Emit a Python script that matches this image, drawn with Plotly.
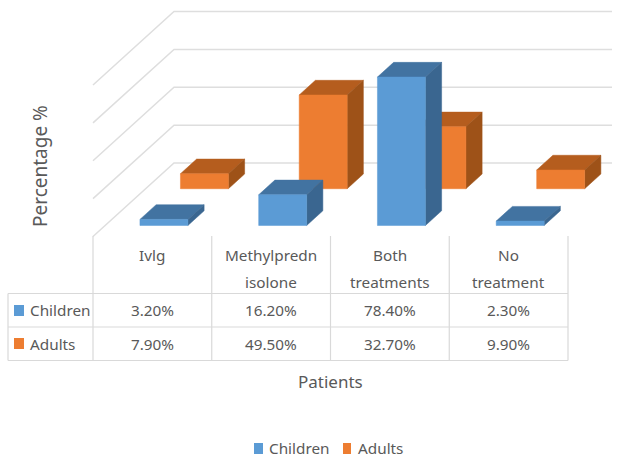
import plotly.graph_objects as go

# Data
categories = [["Ivlg"], ["Methylpredn", "isolone"], ["Both", "treatments"], ["No", "treatment"]]
children = [3.2, 16.2, 78.4, 2.3]
adults = [7.9, 49.5, 32.7, 9.9]
y_ticks = [0, 20, 40, 60, 80]

W, H = 622, 463
# Pixel calibration of the oblique 3D view
X0, UX = 93.0, 118.75      # px of category 0, px per category
Y0, UY = 236.5, 1.893      # px of value 0 on front edge, px per percent
SHEAR_X, SHEAR_Y = 81.0, 73.5   # px shift over the full depth
WALL_END_PX = 612

GAP, BAR_W = 0.293, 0.404
BAR_D = 0.2
D_CHILD, D_ADULT = 0.15, 0.65

GREY = "#d9d9d9"
TXT = "#595959"
FONT = "Noto Sans"

BLUE = ("#5B9BD5", "#4273A1", "#3A6690")
ORANGE = ("#ED7D31", "#B55D1E", "#9E5218")


def px(c, d):
    """x axis unit: categories; depth is sheared into x."""
    return c + d * SHEAR_X / UX


def py(v, d):
    """y axis unit: percent; depth is sheared into y."""
    return v + d * SHEAR_Y / UY


def poly(xs, ys, color, name):
    return go.Scatter(x=xs + xs[:1], y=ys + ys[:1], mode="lines", fill="toself",
                      fillcolor=color, line=dict(color=color, width=0.5),
                      name=name, showlegend=False, hoverinfo="name")


def bar(i, v, d, cols, name):
    l, r = i + GAP, i + GAP + BAR_W
    e = d + BAR_D
    return [
        poly([px(l, d), px(r, d), px(r, e), px(l, e)],
             [py(v, d), py(v, d), py(v, e), py(v, e)], cols[1], name),
        poly([px(r, d), px(r, e), px(r, e), px(r, d)],
             [py(0, d), py(0, e), py(v, e), py(v, d)], cols[2], name),
        poly([px(l, d), px(r, d), px(r, d), px(l, d)],
             [py(0, d), py(0, d), py(v, d), py(v, d)], cols[0], name),
    ]


fig = go.Figure()

# wall gridlines: floor-side diagonal, then along the back wall
x_end = (WALL_END_PX - X0) / UX - SHEAR_X / UX
for t in y_ticks:
    fig.add_trace(go.Scatter(
        x=[px(0, 0), px(0, 1), px(x_end, 1)],
        y=[py(t, 0), py(t, 1), py(t, 1)],
        mode="lines", line=dict(color="#dedede", width=1.5),
        showlegend=False, hoverinfo="skip"))

for i, v in enumerate(adults):
    fig.add_traces(bar(i, v, D_ADULT, ORANGE, "Adults"))
for i, v in enumerate(children):
    fig.add_traces(bar(i, v, D_CHILD, BLUE, "Children"))

ann, shp = [], []


def text(xp, yp, s, size=15.3, anchor="center", angle=0):
    ann.append(dict(x=xp / W, y=1 - yp / H, xref="paper", yref="paper", text=s,
                    showarrow=False, xanchor=anchor, yanchor="middle", textangle=angle,
                    font=dict(family=FONT, size=size, color=TXT)))


def line(x1, y1, x2, y2):
    shp.append(dict(type="line", xref="paper", yref="paper",
                    x0=x1 / W, x1=x2 / W, y0=1 - y1 / H, y1=1 - y2 / H,
                    line=dict(color=GREY, width=1.2)))


def swatch(x1, y1, x2, y2, color):
    shp.append(dict(type="rect", xref="paper", yref="paper",
                    x0=x1 / W, x1=x2 / W, y0=1 - y1 / H, y1=1 - y2 / H,
                    fillcolor=color, line=dict(width=0)))


# data table
col_px = [X0 + UX * k for k in range(len(categories) + 1)]
for xp in col_px:
    line(xp, 236, xp, 360.5)
line(8, 293.5, 8, 360.5)
for yp in (293.5, 327, 360.5):
    line(8, yp, col_px[-1], yp)

for k, lines in enumerate(categories):
    cx = X0 + UX * (k + 0.5)
    for n, s in enumerate(lines):
        text(cx, 255 + 27 * n, s)
    text(cx, 310, f"{children[k]:.2f}%")
    text(cx, 343.5, f"{adults[k]:.2f}%")

swatch(14, 305, 24, 316, BLUE[0])
swatch(14, 338, 24, 349, ORANGE[0])
text(28, 310, "Children", anchor="left")
text(28, 343.5, "Adults", anchor="left")

# axis titles
text(330, 381, "Patients", size=17)
text(40, 166, "Percentage %", size=19, angle=-90)

# legend
swatch(254, 443, 263, 454, BLUE[0])
swatch(343, 443, 351, 454, ORANGE[0])
text(267, 448, "Children", anchor="left")
text(356, 448, "Adults", anchor="left")

fig.update_layout(
    width=W, height=H, autosize=False,
    margin=dict(l=0, r=0, t=0, b=0),
    paper_bgcolor="white", plot_bgcolor="white",
    showlegend=False, annotations=ann, shapes=shp,
    xaxis=dict(visible=False, range=[(0 - X0) / UX, (W - X0) / UX], fixedrange=True),
    yaxis=dict(visible=False, range=[(Y0 - H) / UY, Y0 / UY], fixedrange=True),
)

fig.write_html("out.html", config={"displayModeBar": False},
               post_script="document.body.style.margin='0';document.body.style.overflow='hidden';")
